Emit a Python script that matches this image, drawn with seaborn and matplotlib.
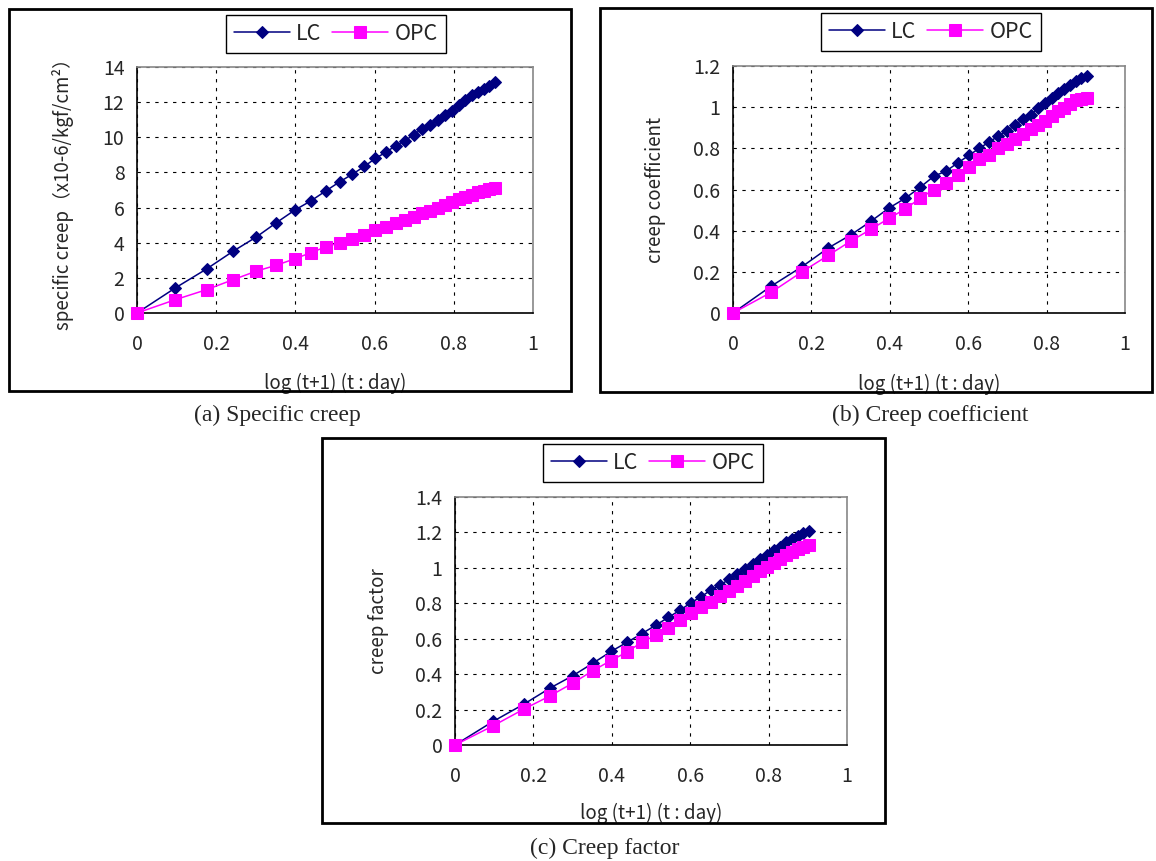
import numpy as np
import pandas as pd
import seaborn as sns
import matplotlib.pyplot as plt
from matplotlib.patches import Rectangle

# --- Data ---
x_log = [0.0, 0.097, 0.176, 0.243, 0.301, 0.352, 0.398, 0.439, 0.477, 0.512,
         0.544, 0.574, 0.602, 0.628, 0.653, 0.677, 0.699, 0.720, 0.740, 0.760,
         0.778, 0.796, 0.813, 0.829, 0.845, 0.860, 0.875, 0.889, 0.903]

spec_lc = [0.0, 1.43, 2.51, 3.52, 4.32, 5.14, 5.85, 6.38, 6.95, 7.47,
           7.90, 8.34, 8.80, 9.14, 9.52, 9.81, 10.15, 10.48, 10.72, 11.00,
           11.28, 11.52, 11.81, 12.13, 12.38, 12.57, 12.72, 12.91, 13.14]
spec_opc = [0.0, 0.76, 1.33, 1.90, 2.38, 2.72, 3.08, 3.43, 3.77, 4.00,
            4.23, 4.42, 4.70, 4.90, 5.10, 5.30, 5.49, 5.68, 5.81, 5.96,
            6.15, 6.29, 6.48, 6.63, 6.74, 6.86, 6.95, 7.05, 7.12]

coef_lc = [0.0, 0.13, 0.225, 0.316, 0.38, 0.446, 0.51, 0.557, 0.61, 0.664,
           0.69, 0.73, 0.766, 0.80, 0.83, 0.86, 0.885, 0.913, 0.943, 0.962,
           0.995, 1.02, 1.044, 1.069, 1.09, 1.11, 1.128, 1.14, 1.15]
coef_opc = [0.0, 0.10, 0.20, 0.28, 0.35, 0.407, 0.46, 0.505, 0.557, 0.60,
            0.634, 0.672, 0.71, 0.746, 0.77, 0.80, 0.82, 0.845, 0.87, 0.893,
            0.913, 0.934, 0.959, 0.979, 0.997, 1.016, 1.033, 1.04, 1.044]

fact_lc = [0.0, 0.133, 0.231, 0.322, 0.392, 0.462, 0.528, 0.58, 0.629, 0.676,
           0.72, 0.761, 0.803, 0.837, 0.875, 0.903, 0.936, 0.964, 0.992, 1.02,
           1.05, 1.074, 1.098, 1.12, 1.144, 1.165, 1.18, 1.197, 1.21]
fact_opc = [0.0, 0.108, 0.203, 0.278, 0.35, 0.42, 0.477, 0.525, 0.581, 0.619,
            0.663, 0.705, 0.746, 0.78, 0.81, 0.84, 0.87, 0.898, 0.926, 0.955,
            0.98, 1.004, 1.026, 1.05, 1.07, 1.09, 1.106, 1.117, 1.128]

series_names = ["LC", "OPC"]
x_ticks = [0, 0.2, 0.4, 0.6, 0.8, 1]
x_label = "log (t+1) (t : day)"

W, H = 1156, 861

# panel settings: y data, y label, y limit, y step, axes box (px), outer box (px), legend center (px), caption
panels = [
    dict(lc=spec_lc, opc=spec_opc, ylabel="specific creep（x10-6/kgf/cm²）",
         ymax=14, ystep=2, ax_px=(137, 67, 533, 313), box_px=(9, 9, 571, 391),
         leg_px=(336, 34), ylab_x=-0.16, xlab_y=-0.244,
         caption="(a) Specific creep", cap_px=(277, 415)),
    dict(lc=coef_lc, opc=coef_opc, ylabel="creep coefficient",
         ymax=1.2, ystep=0.2, ax_px=(733, 66, 1125, 313), box_px=(600, 8, 1152, 392),
         leg_px=(931, 32), ylab_x=-0.171, xlab_y=-0.247,
         caption="(b) Creep coefficient", cap_px=(930, 415)),
    dict(lc=fact_lc, opc=fact_opc, ylabel="creep factor",
         ymax=1.4, ystep=0.2, ax_px=(455, 497, 847, 745), box_px=(322, 438, 885, 823),
         leg_px=(653, 463), ylab_x=-0.168, xlab_y=-0.234,
         caption="(c) Creep factor", cap_px=(605, 848)),
]

sns.set_style("white")
plt.rcParams['font.family'] = ['Noto Sans CJK JP', 'DejaVu Sans']

fig = plt.figure(figsize=(W / 100, H / 100), dpi=100)

for p in panels:
    l, t, r, b = p["ax_px"]
    ax = fig.add_axes([l / W, 1 - b / H, (r - l) / W, (b - t) / H])

    df = pd.DataFrame({"x": x_log * 2,
                       "y": p["lc"] + p["opc"],
                       "series": ["LC"] * len(x_log) + ["OPC"] * len(x_log)})

    sns.lineplot(data=df[df.series == "LC"], x="x", y="y", ax=ax, color="#000080",
                 marker="D", markersize=6.5, markeredgecolor="#000080", linewidth=1.1,
                 label="LC", clip_on=False, zorder=3)
    sns.lineplot(data=df[df.series == "OPC"], x="x", y="y", ax=ax, color="#FF00FF",
                 marker="s", markersize=8.5, markeredgecolor="#FF00FF", linewidth=1.1,
                 label="OPC", clip_on=False, zorder=4)

    ax.set_xlim(0, 1)
    ax.set_ylim(0, p["ymax"])
    ax.set_xticks(x_ticks)
    ax.set_yticks(np.arange(0, p["ymax"] + p["ystep"] / 2, p["ystep"]))
    ax.xaxis.set_major_formatter(plt.FuncFormatter(lambda v, pos: f"{v:g}"))
    ax.yaxis.set_major_formatter(plt.FuncFormatter(lambda v, pos: f"{round(v, 2):g}"))
    ax.tick_params(axis="x", length=0, pad=15, labelsize=14)
    ax.tick_params(axis="y", length=0, pad=9, labelsize=14)

    ax.grid(True, color="black", linestyle=(0, (3, 5)), linewidth=0.8)
    ax.set_axisbelow(True)
    for side in ["top", "right"]:
        ax.spines[side].set_color("#888888")
        ax.spines[side].set_linewidth(1.2)
    for side in ["left", "bottom"]:
        ax.spines[side].set_color("black")
        ax.spines[side].set_linewidth(1.2)

    ax.set_xlabel(x_label, fontsize=13.5)
    ax.set_ylabel(p["ylabel"], fontsize=13.5)
    ax.xaxis.set_label_coords(0.5, p["xlab_y"])
    ax.yaxis.set_label_coords(p["ylab_x"], 0.5)

    lx, ly = p["leg_px"]
    ax.legend(loc="center", bbox_to_anchor=(lx / W, 1 - ly / H),
              bbox_transform=fig.transFigure, ncol=2, frameon=True, fancybox=False,
              edgecolor="black", fontsize=15.5, handlelength=2.6, handletextpad=0.3,
              columnspacing=0.5, borderpad=0.35, framealpha=1)
    ax.get_legend().get_frame().set_linewidth(1.0)

    bl, bt, br, bb = p["box_px"]
    fig.patches.append(Rectangle((bl / W, 1 - bb / H), (br - bl) / W, (bb - bt) / H,
                                 transform=fig.transFigure, fill=False,
                                 edgecolor="black", linewidth=2))

    cx, cy = p["cap_px"]
    fig.text(cx / W, 1 - cy / H, p["caption"], ha="center", va="center",
             fontsize=17, family="Liberation Serif")

fig.savefig("out.png", dpi=100)
